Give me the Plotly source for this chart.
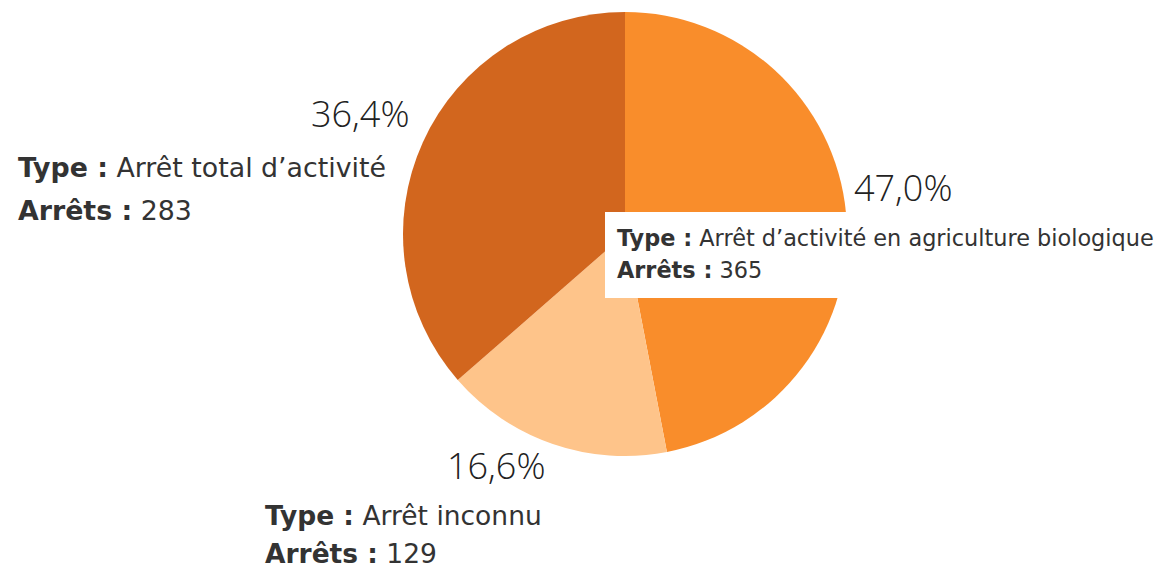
import plotly.graph_objects as go

types = ["Arrêt d’activité en agriculture biologique", "Arrêt inconnu", "Arrêt total d’activité"]
arrets = [365, 129, 283]
colors = ["#F98D2B", "#FEC48A", "#D2661E"]

W, H = 1165, 569
OFF = 8  # page body margin


def px_x(x):
    return (x - OFF) / W


def px_y(y):
    return 1 - (y - OFF) / H


total = sum(arrets)
pct_labels = [f"{v / total * 100:.1f}%".replace(".", ",") for v in arrets]

fig = go.Figure()
fig.add_trace(go.Pie(
    labels=types,
    values=arrets,
    marker=dict(colors=colors, line=dict(width=0)),
    sort=False,
    direction="clockwise",
    rotation=0,
    textinfo="none",
    hoverinfo="label+value",
    showlegend=False,
    domain=dict(x=[px_x(403), px_x(847)], y=[px_y(456), px_y(12)]),
))

pct_font = dict(family="Open Sans", size=36, color="#222222", weight=300)

# percentage labels: (x, y, anchor)
pct_pos = [(852, 187, "left"), (547, 465, "right"), (411, 113, "right")]
# tooltip-like labels: (x, y of first line, y of second line, font size)
lab_pos = [(615, 238, 270, 22.4), (263, 515, 553, 26.5), (16, 167, 210, 26.8)]

for i in range(len(types)):
    x, y, anc = pct_pos[i]
    fig.add_annotation(x=px_x(x), y=px_y(y), xref="paper", yref="paper",
                       text=pct_labels[i], showarrow=False, xanchor=anc,
                       yanchor="middle", font=pct_font)

# white box behind the first label
fig.add_shape(type="rect", xref="paper", yref="paper", layer="above",
              x0=px_x(605), x1=px_x(1175), y0=px_y(298), y1=px_y(212),
              fillcolor="white", line=dict(width=0))

for i in range(len(types)):
    x, y1, y2, fs = lab_pos[i]
    f = dict(family="DejaVu Sans", size=fs, color="#333333")
    fig.add_annotation(x=px_x(x), y=px_y(y1), xref="paper", yref="paper",
                       text=f"<b>Type :</b> {types[i]}", showarrow=False,
                       xanchor="left", yanchor="middle", font=f)
    fig.add_annotation(x=px_x(x), y=px_y(y2), xref="paper", yref="paper",
                       text=f"<b>Arrêts :</b> {arrets[i]}", showarrow=False,
                       xanchor="left", yanchor="middle", font=f)

fig.update_layout(
    width=W, height=H,
    margin=dict(l=0, r=0, t=0, b=0),
    paper_bgcolor="white",
    plot_bgcolor="white",
)

fig.write_html("out.html")
